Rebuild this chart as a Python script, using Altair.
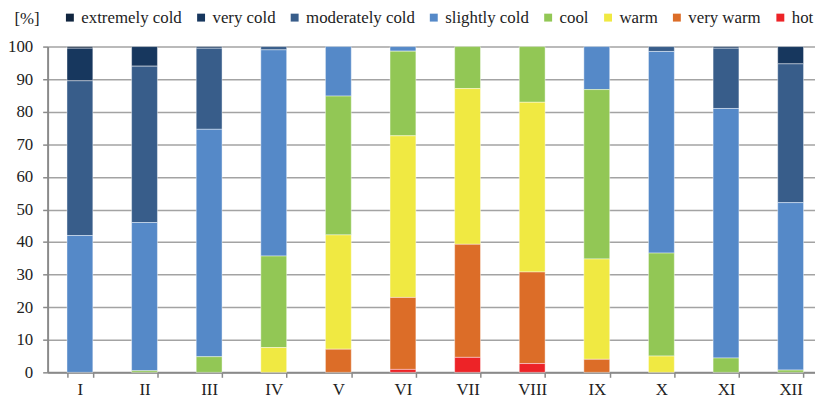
import altair as alt
import pandas as pd

months = ["I", "II", "III", "IV", "V", "VI", "VII", "VIII", "IX", "X", "XI", "XII"]
categories = ["extremely cold", "very cold", "moderately cold", "slightly cold",
              "cool", "warm", "very warm", "hot"]
colors = ["#10253f", "#17375e", "#385d8a", "#5589c8", "#92c755", "#f0e942", "#dc6d28", "#ed2327"]

extremely_cold = [0.5, 0, 0, 0, 0, 0, 0, 0, 0, 0, 0, 0]
very_cold = [10.0, 6.0, 0.5, 0, 0, 0, 0, 0, 0, 0, 0.5, 5.3]
moderately_cold = [47.5, 48.0, 24.9, 1.0, 0, 0, 0, 0, 0, 1.5, 18.5, 42.6]
slightly_cold = [42.0, 45.5, 69.8, 63.3, 15.2, 1.4, 0, 0, 13.2, 61.9, 76.6, 51.4]
cool = [0, 0.5, 4.8, 28.1, 42.6, 26.0, 12.9, 17.1, 52.0, 31.6, 4.4, 0.7]
warm = [0, 0, 0, 7.6, 35.1, 49.6, 47.8, 52.1, 30.8, 5.0, 0, 0]
very_warm = [0, 0, 0, 0, 7.1, 22.1, 34.7, 28.1, 4.0, 0, 0, 0]
hot = [0, 0, 0, 0, 0, 0.9, 4.6, 2.7, 0, 0, 0, 0]

series = [extremely_cold, very_cold, moderately_cold, slightly_cold, cool, warm, very_warm, hot]

rows = []
for ci, (cat, vals) in enumerate(zip(categories, series)):
    for m, v in zip(months, vals):
        if v > 0:
            rows.append({"month": m, "category": cat, "value": v, "order": len(categories) - 1 - ci})
df = pd.DataFrame(rows)

font = "Liberation Serif"

chart = alt.Chart(df).mark_bar(stroke="white", strokeWidth=0.6, strokeOpacity=0.7).encode(
    x=alt.X("month:N", sort=months,
            scale=alt.Scale(range=[0, 783], paddingInner=0.6, paddingOuter=0.3),
            axis=alt.Axis(title=None, labelAngle=0, tickBand="extent", tickSize=5,
                          labelPadding=4, labelFontSize=17, labelFont=font, labelColor="#222",
                          domainColor="#8a8a8a", domainWidth=2, tickColor="#8a8a8a", tickWidth=1.5)),
    y=alt.Y("value:Q", stack="zero",
            scale=alt.Scale(domain=[0, 100], nice=False),
            axis=alt.Axis(values=list(range(0, 101, 10)), title="[%]", titleAngle=0,
                          titleX=-34, titleY=-28, titleAlign="left", titleBaseline="middle",
                          titleFont=font, titleFontSize=17, titleFontWeight="normal", titleColor="#222",
                          labelFontSize=17, labelFont=font, labelColor="#222", labelPadding=10,
                          tickSize=5, tickColor="#8a8a8a", tickWidth=1.5,
                          domainColor="#8a8a8a", domainWidth=2,
                          grid=True, gridColor="#a3a3a3", gridWidth=1.5)),
    color=alt.Color("category:N",
                    scale=alt.Scale(domain=categories, range=colors),
                    legend=alt.Legend(title=None, orient="none", legendX=14, legendY=-38,
                                      direction="horizontal", columns=8, symbolType="square",
                                      symbolSize=64, symbolStrokeWidth=0, labelFont=font,
                                      labelFontSize=17, labelColor="#222", labelOffset=3,
                                      columnPadding=10.5, labelLimit=300)),
    order=alt.Order("order:Q", sort="ascending"),
).properties(
    width=775, height=329,
    autosize=alt.AutoSizeParams(type="none"),
    padding={"left": 40, "top": 37, "right": 0, "bottom": 30},
).configure(font=font).configure_view(stroke=None)

chart.save("out.html", embed_options={"renderer": "svg", "actions": False})
